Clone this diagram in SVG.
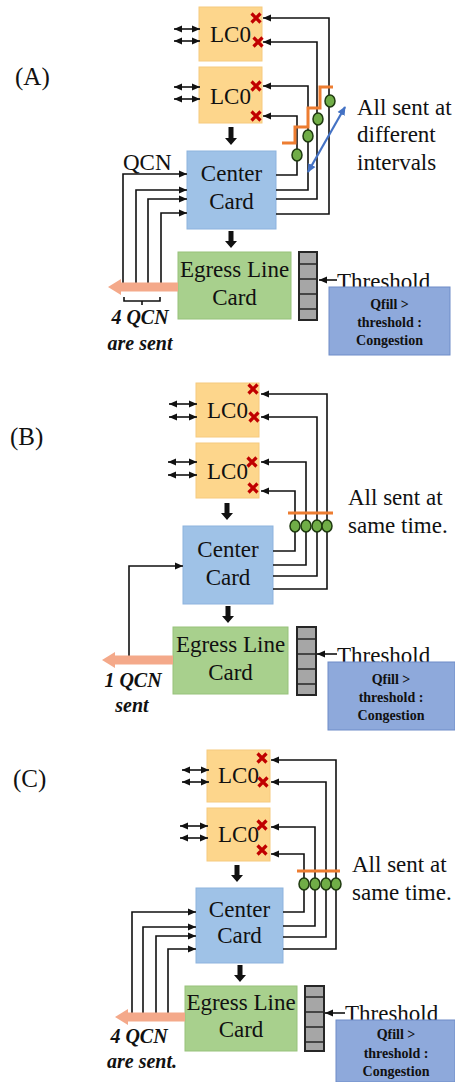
<svg xmlns="http://www.w3.org/2000/svg" width="455" height="1082" viewBox="0 0 455 1082">
<style>
.t{font-family:"Liberation Serif","Times New Roman",serif;font-size:23px;fill:#111}
.m{text-anchor:middle}
.lbl{font-family:"Liberation Serif","Times New Roman",serif;font-size:25px;fill:#111}
.cg{font-family:"Liberation Serif","Times New Roman",serif;font-size:14px;font-weight:bold;fill:#111;text-anchor:middle}
.bi{font-family:"Liberation Serif","Times New Roman",serif;font-size:20px;font-weight:bold;font-style:italic;fill:#111;text-anchor:middle}
.lc{fill:#fdd68c;stroke:#f6ca7e;stroke-width:1}
.cc{fill:#9fc2e7;stroke:#8db3de;stroke-width:1}
.eg{fill:#a8d08d;stroke:#97c27b;stroke-width:1}
.cb{fill:#8ea9db;stroke:#6e8cc8;stroke-width:1}
.q{fill:#a6a6a6;stroke:#262626;stroke-width:2}
.qs{stroke:#262626;stroke-width:1.6}
.x{stroke:#c00000;stroke-width:3.2;fill:none}
.ln{fill:none;stroke:#111;stroke-width:1.6}
.ar{marker-end:url(#ah)}
.da{marker-start:url(#ah);marker-end:url(#ah)}
.dot{fill:#70ad47;stroke:#1f3a10;stroke-width:1.5}
.or{fill:none;stroke:#ed7d31;stroke-width:3}
.big{fill:#111}
.sal{fill:#f4a98a}
</style>
<defs>
<marker id="ah" markerWidth="8" markerHeight="8" refX="8" refY="4" orient="auto-start-reverse" markerUnits="userSpaceOnUse"><path d="M0,0.5 L8,4 L0,7.5 z" fill="#111"/></marker>
<marker id="bh" markerWidth="9" markerHeight="9" refX="8" refY="4.5" orient="auto-start-reverse" markerUnits="userSpaceOnUse"><path d="M0,0.5 L9,4.5 L0,8.5 z" fill="#4472c4"/></marker>
</defs>

<!-- Panel labels -->
<text class="lbl" x="15" y="85">(A)</text>
<text class="lbl" x="10" y="445">(B)</text>
<text class="lbl" x="13" y="787">(C)</text>

<!-- ================= PANEL A ================= -->
<g id="A-lc0-1">
<rect class="lc" x="199" y="7" width="63" height="54"/>
<text class="t m" x="230.5" y="42">LC0</text>
<path class="x" d="M251.5,13.5 l9,9 M260.5,13.5 l-9,9 M253.5,37.5 l9,9 M262.5,37.5 l-9,9"/>
</g>
<g id="A-lc0-2">
<rect class="lc" x="199" y="67" width="63" height="56"/>
<text class="t m" x="230.5" y="104">LC0</text>
<path class="x" d="M251.5,81.5 l9,9 M260.5,81.5 l-9,9 M251.5,111.5 l9,9 M260.5,111.5 l-9,9"/>
</g>
<g id="A-center">
<rect class="cc" x="187" y="151" width="89" height="78"/>
<text class="t m" x="231.5" y="181">Center</text>
<text class="t m" x="231.5" y="209">Card</text>
</g>
<g id="A-egress">
<rect class="eg" x="178" y="252" width="113" height="67"/>
<text class="t m" x="234.5" y="277">Egress Line</text>
<text class="t m" x="234.5" y="305">Card</text>
</g>
<g id="A-queue">
<rect class="q" x="299" y="252" width="18" height="68"/>
<path class="qs" d="M299,264 H317 M299,279 H317 M299,294 H317 M299,309 H317"/>
</g>
<g id="A-threshold">
<text class="t" x="337" y="289">Threshold</text>
</g>
<g id="A-congestion">
<rect class="cb" x="329" y="287" width="121" height="68"/>
<text class="cg" x="389.5" y="309">Qfill &gt;</text>
<text class="cg" x="389.5" y="327">threshold :</text>
<text class="cg" x="389.5" y="345">Congestion</text>
</g>
<g id="A-notes">
<text class="t" x="123" y="170">QCN</text>
<text class="t" x="357" y="115">All sent at</text>
<text class="t" x="357" y="142">different</text>
<text class="t" x="357" y="170">intervals</text>
<text class="bi" x="140" y="324">4 QCN</text>
<text class="bi" x="140" y="350">are sent</text>
</g>
<g id="A-connectors">
<line class="ln da" x1="174" y1="29" x2="200" y2="29"/>
<line class="ln da" x1="174" y1="41" x2="200" y2="41"/>
<line class="ln da" x1="174" y1="87" x2="200" y2="87"/>
<line class="ln da" x1="174" y1="99" x2="200" y2="99"/>
<path class="ln ar" d="M276,214 H329 V18 H263"/>
<path class="ln ar" d="M276,199 H317 V42 H263"/>
<path class="ln ar" d="M276,190 H308 V86 H263"/>
<path class="ln ar" d="M276,175 H297 V116 H263"/>
<path class="ln ar" d="M123,288 V174 H187"/>
<path class="ln ar" d="M136,288 V190 H187"/>
<path class="ln ar" d="M148,288 V199 H187"/>
<path class="ln ar" d="M161,288 V213 H187"/>
<path class="ln" d="M124,297 V301 H160 V297 M142,301 V305"/>
<line class="ln ar" x1="337" y1="280" x2="319" y2="280"/>
<polygon class="big" points="228.5,127 233.5,127 233.5,138 237,138 231,145 225,138 228.5,138"/>
<polygon class="big" points="228.5,231 233.5,231 233.5,241 237,241 231,248 225,241 228.5,241"/>
<polygon class="sal" points="178,282.5 121,282.5 121,279 108,287 121,295 121,291.5 178,291.5"/>
<path class="or" d="M282,143 H295 V127 H308 V108 H320 V87 H333"/>
<ellipse class="dot" cx="297" cy="155" rx="5" ry="6"/>
<ellipse class="dot" cx="308" cy="136" rx="5" ry="6"/>
<ellipse class="dot" cx="318" cy="119" rx="5" ry="6"/>
<ellipse class="dot" cx="330" cy="101" rx="5" ry="6"/>
<line x1="308" y1="172" x2="345" y2="107" stroke="#4472c4" stroke-width="2.2" marker-start="url(#bh)" marker-end="url(#bh)"/>
</g>

<!-- ================= PANEL B ================= -->
<g id="B-lc0-1">
<rect class="lc" x="196" y="383" width="63" height="54"/>
<text class="t m" x="227.5" y="418">LC0</text>
<path class="x" d="M248.5,384.5 l9,9 M257.5,384.5 l-9,9 M249.5,412.5 l9,9 M258.5,412.5 l-9,9"/>
</g>
<g id="B-lc0-2">
<rect class="lc" x="196" y="443" width="63" height="55"/>
<text class="t m" x="227.5" y="479">LC0</text>
<path class="x" d="M247.5,457.5 l9,9 M256.5,457.5 l-9,9 M248.5,483.5 l9,9 M257.5,483.5 l-9,9"/>
</g>
<g id="B-center">
<rect class="cc" x="183" y="526" width="90" height="78"/>
<text class="t m" x="228" y="557">Center</text>
<text class="t m" x="228" y="585">Card</text>
</g>
<g id="B-egress">
<rect class="eg" x="173" y="627" width="115" height="67"/>
<text class="t m" x="230.5" y="652">Egress Line</text>
<text class="t m" x="230.5" y="680">Card</text>
</g>
<g id="B-queue">
<rect class="q" x="297" y="627" width="19" height="68"/>
<path class="qs" d="M297,639 H316 M297,654 H316 M297,669 H316 M297,684 H316"/>
</g>
<g id="B-threshold">
<text class="t" x="337" y="663">Threshold</text>
</g>
<g id="B-congestion">
<rect class="cb" x="328" y="662" width="127" height="68"/>
<text class="cg" x="391" y="684">Qfill &gt;</text>
<text class="cg" x="391" y="702">threshold :</text>
<text class="cg" x="391" y="720">Congestion</text>
</g>
<g id="B-notes">
<text class="t" x="348" y="505">All sent at</text>
<text class="t" x="348" y="533">same time.</text>
<text class="bi" x="133" y="687">1 QCN</text>
<text class="bi" x="132" y="712">sent</text>
</g>
<g id="B-connectors">
<line class="ln da" x1="169" y1="404" x2="197" y2="404"/>
<line class="ln da" x1="169" y1="417" x2="197" y2="417"/>
<line class="ln da" x1="168" y1="462" x2="197" y2="462"/>
<line class="ln da" x1="168" y1="475" x2="197" y2="475"/>
<path class="ln ar" d="M273,589 H327 V394 H261"/>
<path class="ln ar" d="M273,576 H317 V417 H261"/>
<path class="ln ar" d="M273,565 H306 V462 H261"/>
<path class="ln ar" d="M273,551 H295 V491 H261"/>
<path class="ln ar" d="M129,661 V566 H183"/>
<line class="ln ar" x1="337" y1="654" x2="317" y2="654"/>
<polygon class="big" points="224.5,503 229.5,503 229.5,513 233,513 227,520 221,513 224.5,513"/>
<polygon class="big" points="225.5,606 230.5,606 230.5,616 234,616 228,623 222,616 225.5,616"/>
<polygon class="sal" points="173,655.5 115,655.5 115,652 102,660 115,668 115,664.5 173,664.5"/>
<line class="or" x1="288" y1="513" x2="333" y2="513"/>
<ellipse class="dot" cx="295" cy="526" rx="5" ry="6"/>
<ellipse class="dot" cx="306" cy="526" rx="5" ry="6"/>
<ellipse class="dot" cx="317" cy="526" rx="5" ry="6"/>
<ellipse class="dot" cx="327" cy="526" rx="5" ry="6"/>
</g>

<!-- ================= PANEL C ================= -->
<g id="C-lc0-1">
<rect class="lc" x="207" y="750" width="63" height="52"/>
<text class="t m" x="238.5" y="783">LC0</text>
<path class="x" d="M257.5,753.5 l9,9 M266.5,753.5 l-9,9 M258.5,777.5 l9,9 M267.5,777.5 l-9,9"/>
</g>
<g id="C-lc0-2">
<rect class="lc" x="207" y="808" width="63" height="53"/>
<text class="t m" x="238.5" y="842">LC0</text>
<path class="x" d="M257.5,820.5 l9,9 M266.5,820.5 l-9,9 M257.5,845.5 l9,9 M266.5,845.5 l-9,9"/>
</g>
<g id="C-center">
<rect class="cc" x="196" y="888" width="87" height="75"/>
<text class="t m" x="239.5" y="917">Center</text>
<text class="t m" x="239.5" y="943">Card</text>
</g>
<g id="C-egress">
<rect class="eg" x="185" y="986" width="112" height="65"/>
<text class="t m" x="241" y="1010">Egress Line</text>
<text class="t m" x="241" y="1037">Card</text>
</g>
<g id="C-queue">
<rect class="q" x="305" y="986" width="19" height="65"/>
<path class="qs" d="M305,997 H324 M305,1012 H324 M305,1027 H324 M305,1042 H324"/>
</g>
<g id="C-threshold">
<text class="t" x="345" y="1021">Threshold</text>
</g>
<g id="C-congestion">
<rect class="cb" x="336" y="1020" width="119" height="62"/>
<text class="cg" x="396" y="1039">Qfill &gt;</text>
<text class="cg" x="396" y="1058">threshold :</text>
<text class="cg" x="396" y="1076">Congestion</text>
</g>
<g id="C-notes">
<text class="t" x="352" y="872">All sent at</text>
<text class="t" x="352" y="900">same time.</text>
<text class="bi" x="139" y="1043">4 QCN</text>
<text class="bi" x="142" y="1068">are sent.</text>
</g>
<g id="C-connectors">
<line class="ln da" x1="182" y1="770" x2="209" y2="770"/>
<line class="ln da" x1="182" y1="782" x2="209" y2="782"/>
<line class="ln da" x1="180" y1="826" x2="208" y2="826"/>
<line class="ln da" x1="180" y1="838" x2="208" y2="838"/>
<path class="ln ar" d="M283,949 H336 V760 H271"/>
<path class="ln ar" d="M283,937 H326 V782 H271"/>
<path class="ln ar" d="M283,926 H315 V827 H271"/>
<path class="ln ar" d="M283,912 H304 V854 H271"/>
<path class="ln ar" d="M132,1018 V912 H196"/>
<path class="ln ar" d="M143,1018 V927 H196"/>
<path class="ln ar" d="M156,1018 V936 H196"/>
<path class="ln ar" d="M168,1018 V949 H196"/>
<line class="ln ar" x1="345" y1="1013" x2="325" y2="1013"/>
<polygon class="big" points="234.5,865 239.5,865 239.5,875 243,875 237,882 231,875 234.5,875"/>
<polygon class="big" points="237.5,965 242.5,965 242.5,975 246,975 240,982 234,975 237.5,975"/>
<polygon class="sal" points="185,1012.5 128,1012.5 128,1009 115,1017 128,1025 128,1021.5 185,1021.5"/>
<line class="or" x1="297" y1="871" x2="340" y2="871"/>
<ellipse class="dot" cx="304" cy="884" rx="5" ry="6"/>
<ellipse class="dot" cx="315" cy="884" rx="5" ry="6"/>
<ellipse class="dot" cx="326" cy="884" rx="5" ry="6"/>
<ellipse class="dot" cx="336" cy="884" rx="5" ry="6"/>
</g>
</svg>
